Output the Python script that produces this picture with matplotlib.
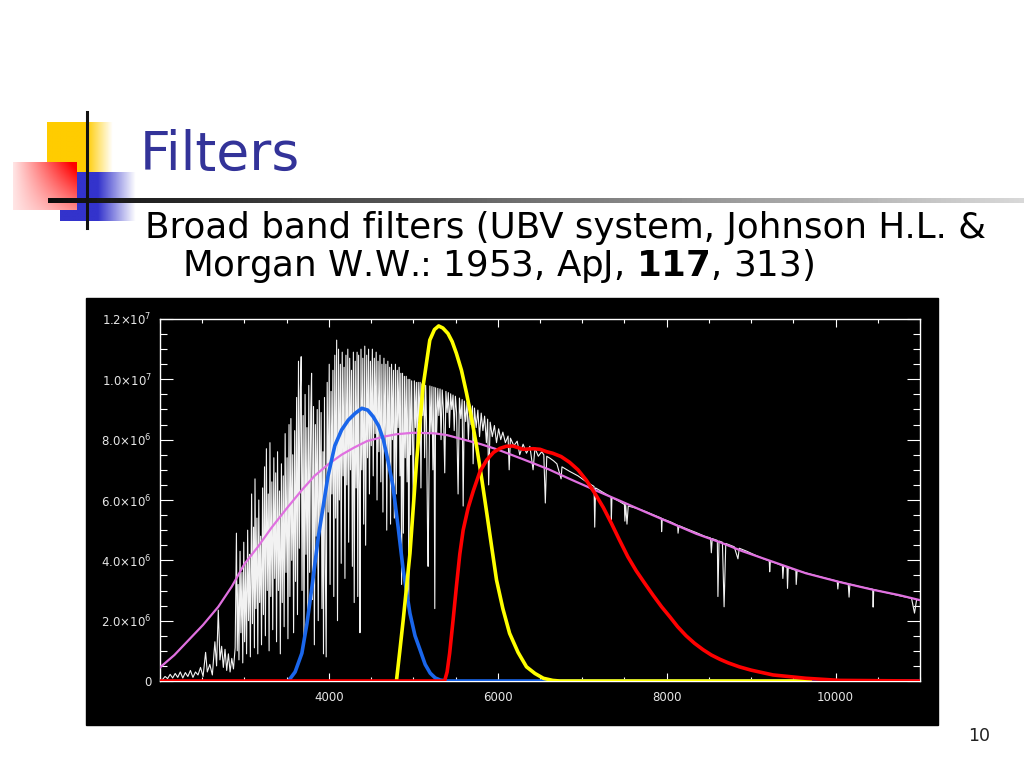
import numpy as np
import matplotlib
matplotlib.use("Agg")
import matplotlib.pyplot as plt
from matplotlib.patches import Rectangle
from matplotlib.ticker import FixedLocator, MultipleLocator

# === valores (flujo en unidades de 1e6) ===
SCALE = 1e6

x_ticks = [4000, 6000, 8000, 10000]
x_labels = ["4000", "6000", "8000", "10000"]
y_ticks = [0, 2, 4, 6, 8, 10, 12]
y_labels = ["0", r"2.0$\times$10$^{6}$", r"4.0$\times$10$^{6}$", r"6.0$\times$10$^{6}$",
            r"8.0$\times$10$^{6}$", r"1.0$\times$10$^{7}$", r"1.2$\times$10$^{7}$"]

# cuerpo negro (curva magenta)
bb_wl = [2000, 2170, 2340, 2510, 2690, 2850, 3000, 3160, 3320, 3500, 3680, 3830,
         4000, 4150, 4300, 4450, 4650, 4800, 5000, 5250, 5400, 5600, 5800, 6000,
         6300, 6600, 6850, 7150, 7450, 7750, 8050, 8350, 8650, 8900, 9250, 9650,
         10050, 10450, 10750, 11000]
bb_f = [0.45, 0.86, 1.36, 1.86, 2.46, 3.13, 3.88, 4.45, 5.08, 5.72, 6.33, 6.80,
        7.20, 7.50, 7.74, 7.95, 8.10, 8.18, 8.23, 8.21, 8.15, 8.00, 7.85, 7.67,
        7.35, 7.02, 6.70, 6.33, 5.97, 5.60, 5.24, 4.88, 4.58, 4.30, 3.96, 3.57,
        3.28, 3.02, 2.85, 2.68]

# filtro U (azul)
u_wl = [3520, 3600, 3680, 3740, 3800, 3875, 3990, 4070, 4150, 4230, 4310, 4390,
        4460, 4525, 4590, 4645, 4700, 4760, 4820, 4880, 4960, 5020, 5080, 5140,
        5200, 5260, 5320, 5400, 11000]
u_f = [0.0, 0.3, 0.92, 1.9, 3.13, 4.78, 6.8, 7.8, 8.32, 8.65, 8.87, 9.04,
       8.98, 8.76, 8.45, 8.0, 7.3, 6.44, 5.1, 3.68, 2.24, 1.5, 1.03, 0.55,
       0.26, 0.1, 0.03, 0.0, 0.0]

# filtro B (amarillo)
b_wl = [4800, 4840, 4880, 4960, 5040, 5115, 5195, 5250, 5300, 5350, 5410, 5460,
        5510, 5570, 5630, 5690, 5750, 5810, 5870, 5930, 5985, 6060, 6140, 6240,
        6340, 6440, 6540, 6650, 6730, 9700]
b_f = [0.0, 1.0, 2.02, 4.23, 7.33, 9.76, 11.3, 11.65, 11.77, 11.7, 11.52, 11.25,
       10.86, 10.3, 9.54, 8.7, 7.77, 6.7, 5.56, 4.4, 3.35, 2.4, 1.58, 0.95,
       0.47, 0.25, 0.09, 0.02, 0.0, 0.0]

# filtro V (rojo)
v_wl = [2000, 5370, 5400, 5430, 5470, 5510, 5550, 5590, 5650, 5710, 5790, 5870,
        5950, 6025, 6100, 6180, 6300, 6420, 6500, 6580, 6650, 6750, 6850, 6950,
        7050, 7150, 7250, 7345, 7440, 7540, 7640, 7740, 7840, 7940, 8040, 8130,
        8230, 8330, 8430, 8530, 8630, 8730, 8860, 9000, 9260, 9650, 10050, 11000]
v_f = [0.0, 0.0, 0.3, 0.92, 2.0, 3.13, 4.2, 5.0, 5.75, 6.3, 6.95, 7.33,
       7.58, 7.71, 7.78, 7.79, 7.68, 7.70, 7.68, 7.6, 7.55, 7.44, 7.25, 7.0,
       6.65, 6.22, 5.75, 5.23, 4.68, 4.12, 3.65, 3.24, 2.84, 2.46, 2.12, 1.8,
       1.5, 1.25, 1.04, 0.86, 0.72, 0.6, 0.47, 0.36, 0.2, 0.09, 0.02, 0.0]

# espectro estelar (longitud de onda, flujo)
spectrum = [
    (2030, 0.05), (2060, 0.15), (2090, 0.08), (2120, 0.22), (2150, 0.10), (2180, 0.25),
    (2210, 0.12), (2240, 0.30), (2270, 0.10), (2300, 0.28), (2330, 0.15), (2360, 0.35),
    (2390, 0.12), (2420, 0.30), (2450, 0.20), (2480, 0.45), (2510, 0.15), (2540, 0.95),
    (2560, 0.30), (2590, 0.55), (2620, 0.20), (2650, 1.30), (2670, 0.50), (2690, 2.35),
    (2710, 0.70), (2730, 1.15), (2750, 0.45), (2770, 1.05), (2790, 0.35), (2810, 0.90),
    (2830, 0.30), (2850, 0.75), (2870, 0.40), (2890, 1.10),
    (2905, 4.9), (2915, 1.0), (2925, 3.2), (2935, 0.7), (2948, 4.3), (2958, 1.6),
    (2970, 3.6), (2980, 0.6), (2992, 4.6), (3002, 1.3), (3015, 3.9), (3025, 0.9),
    (3038, 5.0), (3048, 2.0), (3060, 4.2), (3070, 0.8), (3085, 6.2), (3095, 1.9),
    (3108, 5.1), (3118, 1.1), (3125, 6.7), (3135, 2.4), (3148, 5.4), (3158, 0.9),
    (3170, 6.0), (3180, 2.6), (3192, 4.8), (3202, 1.2), (3215, 6.4), (3225, 2.2),
    (3238, 7.1), (3248, 1.5), (3260, 7.7), (3270, 3.0), (3282, 6.2), (3292, 1.0),
    (3302, 7.9), (3312, 2.8), (3325, 6.6), (3335, 1.7), (3348, 7.4), (3358, 3.4),
    (3370, 6.9), (3380, 1.3), (3392, 7.6), (3402, 3.0), (3415, 6.3), (3425, 0.9),
    (3438, 7.2), (3448, 2.6), (3460, 6.8), (3470, 1.8), (3482, 8.2), (3492, 3.6),
    (3505, 7.4), (3515, 1.4), (3528, 8.5), (3538, 2.8), (3550, 8.7), (3560, 4.0),
    (3572, 7.5), (3582, 1.6), (3595, 8.3), (3605, 3.3), (3618, 9.4), (3628, 2.2),
    (3640, 10.6), (3650, 4.4), (3662, 9.6), (3672, 10.75), (3682, 3.0), (3695, 8.8),
    (3705, 1.4), (3718, 9.5), (3728, 4.2), (3740, 8.4), (3750, 2.2), (3762, 9.8),
    (3772, 3.6), (3785, 8.9), (3795, 10.2), (3805, 2.7), (3818, 9.1), (3828, 1.2),
    (3840, 8.5), (3850, 4.8), (3862, 9.0), (3874, 2.0), (3886, 9.3), (3896, 5.0),
    (3908, 8.9), (3918, 2.4), (3930, 7.6), (3936, 0.9), (3948, 9.4), (3958, 3.8),
    (3968, 0.8), (3980, 9.9), (3992, 5.6), (4004, 10.5), (4014, 3.2), (4026, 9.6),
    (4036, 6.2), (4048, 10.3), (4058, 2.8), (4070, 10.8), (4080, 5.4), (4092, 11.3),
    (4102, 2.0), (4114, 11.0), (4124, 6.0), (4136, 10.5), (4146, 3.9), (4158, 10.9),
    (4168, 6.8), (4180, 10.4), (4190, 3.4), (4202, 10.8), (4212, 6.5), (4224, 11.0),
    (4234, 4.6), (4246, 10.7), (4256, 7.0), (4268, 10.3), (4278, 3.8), (4290, 10.9),
    (4300, 2.6), (4312, 10.6), (4322, 6.4), (4334, 10.9), (4342, 2.8), (4352, 10.8),
    (4362, 6.0), (4368, 1.6), (4380, 11.0), (4390, 7.0), (4402, 10.7), (4412, 5.2),
    (4425, 11.1), (4435, 4.5), (4448, 10.8), (4458, 7.4), (4470, 11.0), (4480, 6.2),
    (4492, 10.6), (4502, 7.8), (4515, 11.0), (4525, 6.8), (4538, 10.7), (4548, 8.2),
    (4560, 10.9), (4570, 6.0), (4582, 10.6), (4592, 7.6), (4605, 10.8), (4615, 6.6),
    (4628, 10.5), (4640, 5.6), (4652, 10.7), (4662, 7.9), (4675, 10.5), (4685, 5.0),
    (4698, 10.6), (4708, 7.2), (4720, 10.4), (4730, 5.2), (4742, 10.5), (4752, 8.0),
    (4765, 10.3), (4775, 5.4), (4788, 10.5), (4798, 6.2), (4810, 10.3), (4820, 8.4),
    (4832, 10.4), (4842, 6.8), (4852, 10.2), (4861, 3.2), (4872, 10.2), (4882, 4.9),
    (4894, 10.1), (4904, 7.4), (4916, 10.1), (4926, 6.6), (4938, 10.0), (4946, 2.7),
    (4958, 10.0), (4968, 7.5), (4980, 9.95), (4990, 8.2), (5000, 5.8), (5012, 9.95),
    (5024, 8.4), (5036, 9.9), (5046, 7.2), (5058, 9.9), (5068, 8.6), (5080, 9.9),
    (5090, 6.4), (5102, 9.85), (5112, 8.8), (5124, 9.85), (5134, 7.4), (5146, 9.8),
    (5156, 8.6), (5168, 5.0), (5175, 3.8), (5184, 6.4), (5196, 9.78), (5208, 8.2),
    (5220, 9.76), (5232, 7.0), (5244, 9.74), (5254, 2.4), (5264, 9.72), (5276, 8.2),
    (5290, 9.7), (5302, 8.8), (5316, 9.68), (5328, 8.0), (5342, 9.65), (5356, 9.0),
    (5372, 6.9), (5386, 9.6), (5400, 8.9), (5414, 9.56), (5428, 8.4), (5442, 9.52),
    (5456, 9.0), (5470, 9.48), (5484, 8.3), (5498, 9.44), (5512, 8.9), (5530, 6.2),
    (5546, 9.38), (5562, 8.7), (5578, 9.33), (5590, 5.8), (5604, 9.28), (5620, 8.6),
    (5636, 9.24), (5652, 8.0), (5668, 9.18), (5684, 8.5), (5700, 9.12), (5708, 7.2),
    (5724, 9.05), (5744, 8.4), (5764, 8.98), (5784, 8.1), (5804, 8.88), (5824, 8.3),
    (5844, 8.78), (5865, 7.9), (5880, 8.68), (5892, 6.5), (5910, 8.58), (5935, 8.1),
    (5960, 8.47), (5985, 7.9), (6010, 8.36), (6035, 8.0), (6060, 8.25), (6090, 7.9),
    (6122, 8.12), (6135, 7.0), (6150, 8.05), (6190, 7.8), (6230, 7.95), (6260, 7.5),
    (6300, 7.85), (6340, 7.55), (6380, 7.78), (6418, 7.0), (6440, 7.72), (6480, 7.45),
    (6520, 7.6), (6545, 7.5), (6563, 5.9), (6580, 7.45), (6620, 7.38), (6660, 7.3),
    (6700, 7.2), (6750, 6.7), (6760, 7.1), (6850, 6.95), (6950, 6.8), (7050, 6.6),
    (7140, 6.45), (7148, 5.1), (7158, 6.4), (7250, 6.25), (7340, 6.1), (7345, 5.35),
    (7352, 6.08), (7440, 5.95), (7500, 5.85), (7505, 5.3), (7515, 5.85), (7530, 5.2),
    (7545, 5.8), (7650, 5.72), (7750, 5.62), (7850, 5.5), (7937, 5.4), (7940, 4.95),
    (7948, 5.38), (8050, 5.27), (8130, 5.16), (8135, 4.9), (8145, 5.15), (8250, 5.03),
    (8350, 4.92), (8450, 4.8), (8520, 4.74), (8529, 4.25), (8540, 4.72), (8560, 4.7),
    (8600, 4.66), (8607, 2.8), (8620, 4.64), (8660, 4.6), (8680, 2.46), (8700, 4.56),
    (8800, 4.45), (8844, 4.05), (8860, 4.4), (8950, 4.3), (9050, 4.17), (9150, 4.05),
    (9215, 3.98), (9220, 3.62), (9228, 3.97), (9300, 3.9), (9370, 3.82), (9376, 3.4),
    (9385, 3.81), (9425, 3.77), (9431, 3.07), (9440, 3.76), (9530, 3.67), (9534, 3.2),
    (9545, 3.66), (9650, 3.58), (9750, 3.5), (9850, 3.43), (9950, 3.36), (10020, 3.31),
    (10027, 3.05), (10035, 3.3), (10150, 3.22), (10160, 2.78), (10170, 3.21), (10300, 3.12),
    (10440, 3.04), (10445, 2.45), (10452, 3.03), (10600, 2.93), (10750, 2.83), (10900, 2.74),
    (10935, 2.25), (10960, 2.7), (11000, 2.68),
]

spec = np.array(spectrum)

# === figura tipo diapositiva (1024x768) ===
fig = plt.figure(figsize=(10.24, 7.68), dpi=100)
fig.patch.set_facecolor("white")

# capa de fondo en pixeles para el logo y el marco negro
bg = fig.add_axes([0, 0, 1, 1])
bg.set_xlim(0, 1024)
bg.set_ylim(768, 0)
bg.axis("off")


def gradient_square(x0, x1, y0, y1, rgb, strength):
    """Cuadrado con degradado hacia blanco; strength(u, v) en [0, 1]."""
    nx, ny = 80, 60
    u, v = np.meshgrid(np.linspace(0, 1, nx), np.linspace(0, 1, ny))
    s = np.clip(strength(u, v), 0, 1)[..., None]
    img = (1 - s) * np.ones(3) + s * np.array(rgb)
    bg.imshow(img, extent=(x0, x1, y1, y0), aspect="auto", interpolation="bilinear", zorder=1)


gradient_square(47, 113, 122, 172, (1.0, 0.8, 0.0), lambda u, v: (1 - u) / 0.4)
gradient_square(60, 136, 172, 221, (0.2, 0.2, 0.8), lambda u, v: (1 - u) / 0.5)
gradient_square(13, 77, 162, 210, (1.0, 0.0, 0.0), lambda u, v: 0.1 + u * (1 - 0.65 * v))

# linea horizontal con degradado gris
ramp = np.linspace(0.05, 0.85, 200)
line_img = np.repeat(ramp[None, :, None], 3, axis=2)
bg.imshow(line_img, extent=(48, 1024, 203, 198), aspect="auto", zorder=2)
bg.plot([87, 87], [112, 228], color="#111111", lw=2.2, zorder=3)
bg.set_xlim(0, 1024)
bg.set_ylim(768, 0)

bg.add_patch(Rectangle((86, 298), 852, 427, color="black", zorder=1))

# textos de la diapositiva
fig.text(140 / 1024, 1 - 170 / 768, "Filters", fontsize=38.5, color="#333399",
         va="baseline", ha="left")
fig.text(145 / 1024, 1 - 238 / 768, "Broad band filters (UBV system, Johnson H.L. &",
         fontsize=25.7, color="black", va="baseline", ha="left")
fig.text(182 / 1024, 1 - 276 / 768, r"Morgan W.W.: 1953, ApJ, $\mathbf{117}$, 313)",
         fontsize=25.7, color="black", va="baseline", ha="left")
fig.text(990 / 1024, 1 - 741 / 768, "10", fontsize=12.5, color="#222222",
         va="baseline", ha="right")

# === grafico ===
ax = fig.add_axes([160 / 1024, 1 - 681 / 768, 760 / 1024, 362 / 768])
ax.set_facecolor("black")
for sp in ax.spines.values():
    sp.set_color("white")
    sp.set_linewidth(1.0)

ax.plot(spec[:, 0], spec[:, 1] * SCALE, color="#f2f2f2", lw=0.8, zorder=2)
ax.plot(bb_wl, np.array(bb_f) * SCALE, color="#e070e0", lw=1.6, zorder=3)
ax.plot(u_wl, np.array(u_f) * SCALE, color="#1a66eb", lw=2.6, zorder=3)
ax.plot(b_wl, np.array(b_f) * SCALE, color="#ffff00", lw=2.6, zorder=3)
ax.plot(v_wl, np.array(v_f) * SCALE, color="#ff0000", lw=2.6, zorder=3)

ax.set_xlim(2000, 11000)
ax.set_ylim(0, 1.2e7)

ax.xaxis.set_major_locator(FixedLocator(x_ticks))
ax.set_xticklabels(x_labels)
ax.xaxis.set_minor_locator(MultipleLocator(500))
ax.yaxis.set_major_locator(FixedLocator([t * SCALE for t in y_ticks]))
ax.set_yticklabels(y_labels)
ax.yaxis.set_minor_locator(MultipleLocator(0.5 * SCALE))

ax.tick_params(axis="x", which="major", direction="in", length=5.8, width=0.8,
               color="white", top=True, bottom=True, labelcolor="#e6e6e6",
               labelsize=8.5, pad=7)
ax.tick_params(axis="x", which="minor", direction="in", length=3, width=0.8,
               color="white", top=True, bottom=True)
ax.tick_params(axis="y", which="major", direction="in", length=9.4, width=0.8,
               color="white", left=True, right=True, labelcolor="#e6e6e6",
               labelsize=8.5, pad=6)
ax.tick_params(axis="y", which="minor", direction="in", length=5, width=0.8,
               color="white", left=True, right=True)

plt.savefig("out.png", dpi=100, facecolor="white")
